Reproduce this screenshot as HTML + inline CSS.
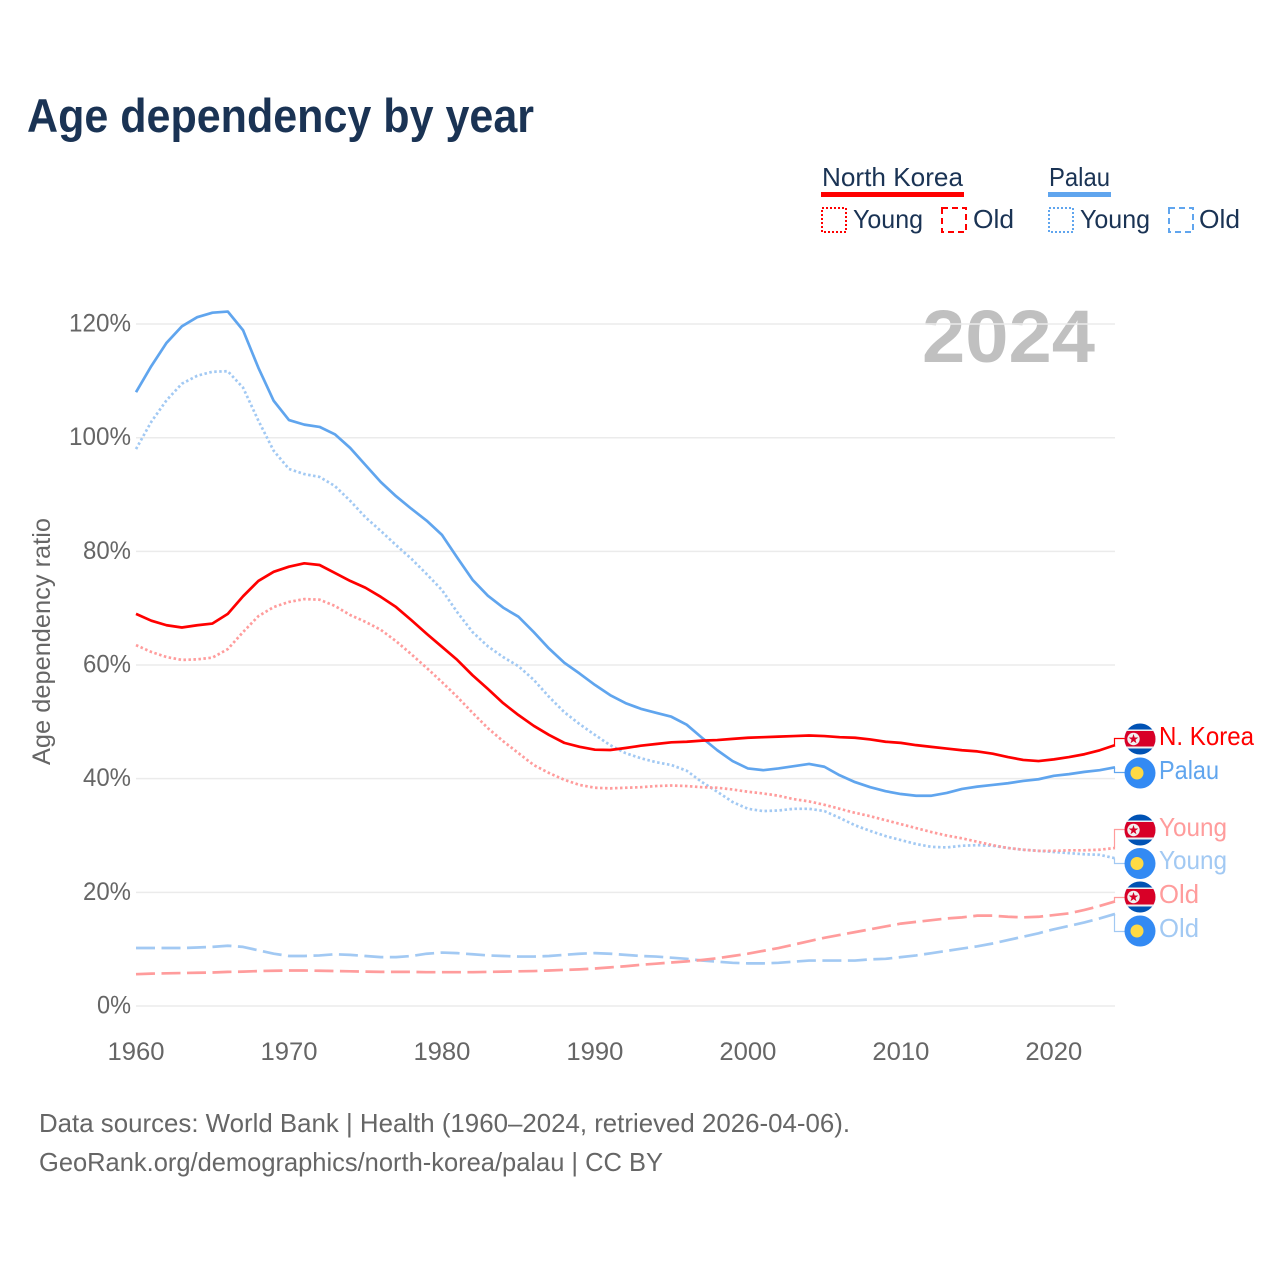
<!DOCTYPE html>
<html lang="en">
<head>
<meta charset="utf-8">
<title>Age dependency by year</title>
<style>
html,body{margin:0;padding:0;background:#fff;width:1280px;height:1280px;overflow:hidden}
svg{display:block}
text{font-family:"Liberation Sans",sans-serif}
</style>
</head>
<body>
<svg id="chart" xmlns="http://www.w3.org/2000/svg" width="1280" height="1280" viewBox="0 0 1280 1280">
  <rect width="1280" height="1280" fill="#ffffff"/>
  <text x="27" y="132" font-size="47" font-weight="700" fill="#1a3354" textLength="507" lengthAdjust="spacingAndGlyphs">Age dependency by year</text>

  <g>
    <text x="822" y="186" font-size="26" fill="#1a3354" textLength="141" lengthAdjust="spacingAndGlyphs">North Korea</text>
    <rect x="821" y="192" width="143" height="5" fill="#ff0000"/>
    <text x="1049" y="186" font-size="26" fill="#1a3354" textLength="61" lengthAdjust="spacingAndGlyphs">Palau</text>
    <rect x="1048" y="192" width="63" height="5" fill="#60a5ee"/>

    <rect x="822" y="208" width="24" height="24" fill="none" stroke="#ff0000" stroke-width="2" stroke-dasharray="2 2"/>
    <text x="853" y="228" font-size="26" fill="#1a3354" textLength="70" lengthAdjust="spacingAndGlyphs">Young</text>
    <rect x="942" y="208" width="24" height="24" fill="none" stroke="#ff0000" stroke-width="2" stroke-dasharray="6 4"/>
    <text x="973" y="228" font-size="26" fill="#1a3354" textLength="41" lengthAdjust="spacingAndGlyphs">Old</text>

    <rect x="1049" y="208" width="24" height="24" fill="none" stroke="#60a5ee" stroke-width="2" stroke-dasharray="2 2"/>
    <text x="1080" y="228" font-size="26" fill="#1a3354" textLength="70" lengthAdjust="spacingAndGlyphs">Young</text>
    <rect x="1169" y="208" width="24" height="24" fill="none" stroke="#60a5ee" stroke-width="2" stroke-dasharray="6 4"/>
    <text x="1199" y="228" font-size="26" fill="#1a3354" textLength="41" lengthAdjust="spacingAndGlyphs">Old</text>
  </g>

  <text x="922" y="362" font-size="74" font-weight="700" fill="#c0c0c0" textLength="173" lengthAdjust="spacingAndGlyphs">2024</text>
  <text transform="translate(50,765) rotate(-90)" x="0" y="0" font-size="25" fill="#666666" textLength="247" lengthAdjust="spacingAndGlyphs">Age dependency ratio</text>

  <g id="grid"></g>
  <g id="yticks"></g>
  <g id="xticks"></g>
  <g id="lines"></g>
  <g id="connectors"></g>

  <defs>
    <clipPath id="flag-clip"><circle cx="15.5" cy="15.5" r="15.5"/></clipPath>
    <g id="flag-nk">
      <g clip-path="url(#flag-clip)">
        <rect width="31" height="31" fill="#0052b4"/>
        <rect y="6" width="31" height="19" fill="#f0f0f0"/>
        <rect y="7.5" width="31" height="15.5" fill="#d80027"/>
      </g>
      <circle cx="9" cy="15.5" r="6.2" fill="#f0f0f0"/>
      <polygon points="9,10.5 10.2,14 13.8,14 10.9,16.2 12,19.7 9,17.6 6,19.7 7.1,16.2 4.2,14 7.8,14" fill="#d80027"/>
    </g>
    <g id="flag-pw">
      <circle cx="15.5" cy="15.5" r="15.5" fill="#338af3"/>
      <circle cx="12.5" cy="15.5" r="6.5" fill="#ffda44"/>
    </g>
  </defs>

  <use href="#flag-nk" x="1124.5" y="723.5"/>
  <use href="#flag-pw" x="1124.5" y="757.5"/>
  <use href="#flag-nk" x="1124.5" y="814.5"/>
  <use href="#flag-pw" x="1124.5" y="848"/>
  <use href="#flag-nk" x="1124.5" y="881.5"/>
  <use href="#flag-pw" x="1124.5" y="915.5"/>

  <text x="1159" y="745" font-size="26" fill="#ff0000" textLength="95" lengthAdjust="spacingAndGlyphs">N. Korea</text>
  <text x="1159" y="779" font-size="26" fill="#60a5ee" textLength="60" lengthAdjust="spacingAndGlyphs">Palau</text>
  <text x="1159" y="836" font-size="26" fill="#ff9c9c" textLength="68" lengthAdjust="spacingAndGlyphs">Young</text>
  <text x="1159" y="869" font-size="26" fill="#a2c9f3" textLength="68" lengthAdjust="spacingAndGlyphs">Young</text>
  <text x="1159" y="903" font-size="26" fill="#ff9c9c" textLength="40" lengthAdjust="spacingAndGlyphs">Old</text>
  <text x="1159" y="937" font-size="26" fill="#a2c9f3" textLength="40" lengthAdjust="spacingAndGlyphs">Old</text>

  <text x="39" y="1132" font-size="26" fill="#666666" textLength="811" lengthAdjust="spacingAndGlyphs">Data sources: World Bank | Health (1960–2024, retrieved 2026-04-06).</text>
  <text x="39" y="1171" font-size="26" fill="#666666" textLength="624" lengthAdjust="spacingAndGlyphs">GeoRank.org/demographics/north-korea/palau | CC BY</text>
</svg>

<script>
const startYear = 1960;
const endYear = 2024;
const xTickYears = [1960, 1970, 1980, 1990, 2000, 2010, 2020];
const yTickValues = [0, 20, 40, 60, 80, 100, 120];

const northKoreaTotal = [
  69.0, 67.8, 67.0, 66.6, 67.0, 67.3, 69.0, 72.1, 74.8, 76.4,
  77.3, 77.9, 77.6, 76.2, 74.8, 73.6, 72.0, 70.2, 67.9, 65.5,
  63.2, 60.9, 58.2, 55.8, 53.3, 51.2, 49.3, 47.7, 46.3, 45.6,
  45.1, 45.05, 45.4, 45.8, 46.1, 46.4, 46.5, 46.7, 46.8, 47.0,
  47.2, 47.3, 47.4, 47.5, 47.6, 47.5, 47.3, 47.2, 46.9, 46.5,
  46.3, 45.9, 45.6, 45.3, 45.0, 44.8, 44.4, 43.8, 43.3, 43.1,
  43.4, 43.8, 44.3, 45.0, 45.9
];
const palauTotal = [
  108.0, 112.6, 116.7, 119.6, 121.2, 122.0, 122.2, 118.9, 112.3, 106.5,
  103.1, 102.3, 101.9, 100.6, 98.2, 95.2, 92.2, 89.7, 87.5, 85.4,
  82.9, 78.9, 75.0, 72.2, 70.1, 68.5, 65.8, 62.9, 60.4, 58.5,
  56.5, 54.7, 53.3, 52.3, 51.6, 50.9, 49.5, 47.2, 45.0, 43.1,
  41.8, 41.5, 41.8, 42.2, 42.6, 42.1, 40.6, 39.4, 38.5, 37.8,
  37.3, 37.0, 37.0, 37.5, 38.2, 38.6, 38.9, 39.2, 39.6, 39.9,
  40.5, 40.8, 41.2, 41.5, 42.0
];
const northKoreaYoung = [
  63.5, 62.3, 61.4, 60.9, 61.0, 61.3, 62.8, 65.8, 68.6, 70.2,
  71.1, 71.6, 71.5, 70.4, 68.8, 67.6, 66.2, 64.2, 61.9, 59.5,
  57.0, 54.4, 51.6, 48.9, 46.6, 44.5, 42.4, 41.0, 39.8, 38.9,
  38.4, 38.3, 38.4, 38.5, 38.7, 38.8, 38.7, 38.5, 38.4, 38.1,
  37.7, 37.4, 37.0, 36.4, 36.0, 35.4, 34.7, 34.0, 33.4, 32.7,
  32.0, 31.3, 30.6, 30.0, 29.5, 28.9, 28.3, 27.8, 27.5, 27.3,
  27.3, 27.4, 27.4, 27.5, 27.8
];
const palauYoung = [
  98.0, 102.8, 106.6, 109.5, 110.9, 111.6, 111.7, 108.8, 103.0, 97.7,
  94.5, 93.6, 93.1, 91.5, 88.9, 86.0, 83.6, 81.1, 78.7, 76.0,
  73.2, 69.3, 65.8, 63.3, 61.4, 59.8, 57.4, 54.4, 51.7, 49.6,
  47.7, 45.9, 44.5, 43.6, 42.9, 42.4, 41.4, 39.4, 37.7, 35.9,
  34.7, 34.3, 34.4, 34.7, 34.7, 34.3, 33.1, 31.8, 30.8, 29.9,
  29.2, 28.5, 28.0, 27.9, 28.2, 28.3, 28.2, 27.8, 27.5, 27.3,
  27.1, 26.9, 26.7, 26.6, 26.0
];
const northKoreaOld = [
  5.6, 5.7, 5.75, 5.8, 5.85, 5.9, 6.0, 6.05, 6.15, 6.2,
  6.25, 6.25, 6.2, 6.15, 6.1, 6.05, 6.0, 6.0, 6.0, 5.95,
  5.95, 5.95, 5.95, 6.0, 6.05, 6.1, 6.15, 6.25, 6.35, 6.45,
  6.6, 6.8, 7.0, 7.25, 7.45, 7.65, 7.85, 8.1, 8.4, 8.8,
  9.2, 9.7, 10.2, 10.8, 11.4, 12.0, 12.5, 13.0, 13.5, 14.0,
  14.5, 14.8, 15.1, 15.4, 15.6, 15.9, 15.9, 15.7, 15.6, 15.7,
  16.0, 16.3, 16.9, 17.6, 18.4
];
const palauOld = [
  10.2, 10.2, 10.2, 10.2, 10.3, 10.4, 10.6, 10.4, 9.8, 9.2,
  8.8, 8.8, 8.9, 9.1, 9.0, 8.8, 8.6, 8.6, 8.8, 9.2,
  9.4, 9.3, 9.1, 8.9, 8.8, 8.7, 8.7, 8.8, 9.0, 9.2,
  9.3, 9.2, 9.0, 8.8, 8.7, 8.5, 8.3, 8.0, 7.8, 7.6,
  7.5, 7.5, 7.6, 7.8, 8.0, 8.0, 8.0, 8.0, 8.2, 8.3,
  8.6, 8.9, 9.3, 9.7, 10.1, 10.5, 11.0, 11.6, 12.2, 12.8,
  13.5, 14.1, 14.7, 15.4, 16.2
];

const SVG_NS = 'http://www.w3.org/2000/svg';
const plotLeft = 136;
const plotRight = 1115;
const y0Pixel = 1006;
const pxPerUnit = 5.683;

function xScale(year) {
  return plotLeft + (year - startYear) * (plotRight - plotLeft) / (endYear - startYear);
}
function yScale(value) {
  return y0Pixel - value * pxPerUnit;
}
function pathFrom(values) {
  return values.map(function (v, i) {
    return (i ? 'L' : 'M') + xScale(startYear + i).toFixed(2) + ' ' + yScale(v).toFixed(2);
  }).join(' ');
}

const gridGroup = document.getElementById('grid');
const yTickGroup = document.getElementById('yticks');
yTickValues.forEach(function (v) {
  const line = document.createElementNS(SVG_NS, 'line');
  line.setAttribute('x1', plotLeft);
  line.setAttribute('x2', plotRight);
  line.setAttribute('y1', yScale(v));
  line.setAttribute('y2', yScale(v));
  line.setAttribute('stroke', '#ebebeb');
  line.setAttribute('stroke-width', '1.5');
  
  
  gridGroup.appendChild(line);

  const label = document.createElementNS(SVG_NS, 'text');
  label.setAttribute('x', 131);
  label.setAttribute('y', yScale(v) + 7.5);
  label.setAttribute('text-anchor', 'end');
  label.setAttribute('font-size', '25');
  label.setAttribute('fill', '#666666');
  const labelText = v + '%';
  label.setAttribute('textLength', labelText.length === 2 ? 34 : (labelText.length === 3 ? 48 : 62));
  label.setAttribute('lengthAdjust', 'spacingAndGlyphs');
  label.textContent = labelText;
  
  
  yTickGroup.appendChild(label);
});

const xTickGroup = document.getElementById('xticks');
xTickYears.forEach(function (year) {
  const label = document.createElementNS(SVG_NS, 'text');
  label.setAttribute('x', xScale(year));
  label.setAttribute('y', 1060);
  label.setAttribute('text-anchor', 'middle');
  label.setAttribute('font-size', '25');
  label.setAttribute('fill', '#666666');
  label.setAttribute('textLength', '57');
  label.setAttribute('lengthAdjust', 'spacingAndGlyphs');
  label.textContent = String(year);
  
  
  xTickGroup.appendChild(label);
});

const seriesList = [
  { key: 'palau-old', values: palauOld, color: '#a2c9f3', dash: '19 6.5', labelY: 931 },
  { key: 'north-korea-old', values: northKoreaOld, color: '#ff9c9c', dash: '19 6.5', labelY: 897 },
  { key: 'palau-young', values: palauYoung, color: '#a2c9f3', dash: '2.5 2.5', labelY: 863 },
  { key: 'north-korea-young', values: northKoreaYoung, color: '#ff9c9c', dash: '2.5 2.5', labelY: 829 },
  { key: 'palau-total', values: palauTotal, color: '#60a5ee', dash: '', labelY: 772 },
  { key: 'north-korea-total', values: northKoreaTotal, color: '#ff0000', dash: '', labelY: 738 }
];

const lineGroup = document.getElementById('lines');
const connectorGroup = document.getElementById('connectors');
seriesList.forEach(function (s) {
  const path = document.createElementNS(SVG_NS, 'path');
  path.setAttribute('d', pathFrom(s.values));
  path.setAttribute('fill', 'none');
  path.setAttribute('stroke', s.color);
  path.setAttribute('stroke-width', '2.7');
  path.setAttribute('stroke-linejoin', 'round');
  if (s.dash) {
    path.setAttribute('stroke-dasharray', s.dash);
  }
  
  
  lineGroup.appendChild(path);

  const last = s.values[s.values.length - 1];
  const connector = document.createElementNS(SVG_NS, 'path');
  connector.setAttribute('d', 'M1114.5 ' + yScale(last).toFixed(2) + ' V' + (s.labelY + 0.5) + ' H1125');
  connector.setAttribute('fill', 'none');
  connector.setAttribute('stroke', s.color);
  connector.setAttribute('stroke-width', '1.2');
  
  
  connectorGroup.appendChild(connector);
});
</script>
</body>
</html>
